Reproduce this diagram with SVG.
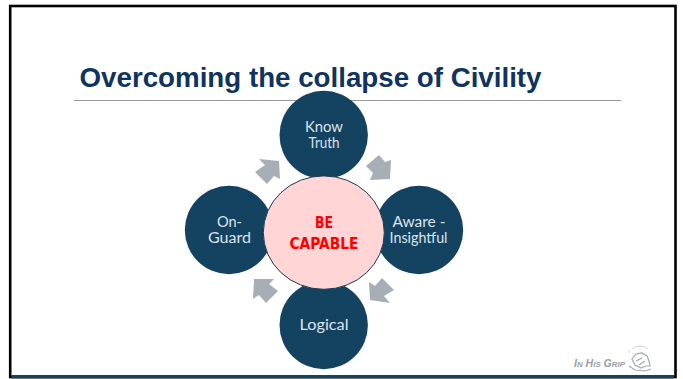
<svg xmlns="http://www.w3.org/2000/svg" width="683" height="379" viewBox="0 0 683 379">
<style>
.sat{fill:#144261}
.lbl{font-family:"Lato","Noto Sans",sans-serif;font-weight:400;font-size:14.5px;fill:#dde5ec;text-anchor:middle}
.arr{fill:#a8aeb6}
.cen{font-family:"DejaVu Sans",sans-serif;font-weight:700;font-size:15.5px;fill:#ff0000;text-anchor:middle}
</style>
<rect width="683" height="379" fill="#fff"/>
<rect x="10.2" y="6" width="665.3" height="371" fill="#fff" stroke="#000" stroke-width="2.6"/>
<rect x="11.5" y="375" width="662.5" height="3.5" fill="#144261"/>
<text x="79.5" y="87" font-family="'Liberation Sans',sans-serif" font-weight="700" font-size="27.5" fill="#0f3460" textLength="462" lengthAdjust="spacingAndGlyphs">Overcoming the collapse of Civility</text>
<line x1="74" y1="100.5" x2="621" y2="100.5" stroke="#999" stroke-width="1"/>
<g id="connectors">
<polygon class="arr" points="379,155 385,162 391,160 390,179 370,180 373,173 366,166"/>
<polygon class="arr" points="279,161 259,159 265,165 255,172 267,184 274,176 280,179"/>
<polygon class="arr" points="254,279 274,279 269,284 278,291 266,303 259,295 253,299"/>
<polygon class="arr" points="370,300 390,303 384,296 394,290 382,278 375,286 369,282"/>
</g>
<g id="node-know"><circle class="sat" cx="323.7" cy="135" r="44.2"/><text class="lbl" x="324" y="132" textLength="38" lengthAdjust="spacingAndGlyphs">Know</text><text class="lbl" x="324" y="148" textLength="31" lengthAdjust="spacingAndGlyphs">Truth</text></g>
<g id="node-aware"><circle class="sat" cx="419" cy="230" r="44.2"/><text class="lbl" x="419" y="227" textLength="53" lengthAdjust="spacingAndGlyphs">Aware -</text><text class="lbl" x="418.5" y="243" textLength="58" lengthAdjust="spacingAndGlyphs">Insightful</text></g>
<g id="node-logical"><circle class="sat" cx="323.7" cy="325" r="44.2"/><text class="lbl" x="324" y="330" textLength="49" lengthAdjust="spacingAndGlyphs">Logical</text></g>
<g id="node-guard"><circle class="sat" cx="229" cy="230" r="44.2"/><text class="lbl" x="229.5" y="227" textLength="25" lengthAdjust="spacingAndGlyphs">On-</text><text class="lbl" x="229.5" y="243" textLength="43" lengthAdjust="spacingAndGlyphs">Guard</text></g>
<g id="node-center"><ellipse cx="323.8" cy="232.6" rx="60.5" ry="56.7" fill="#ffd5d5" stroke="#1a3a55" stroke-width="1"/><text class="cen" x="324" y="228" textLength="18" lengthAdjust="spacingAndGlyphs">BE</text><text class="cen" x="324" y="249" textLength="69" lengthAdjust="spacingAndGlyphs">CAPABLE</text></g>
<g id="logo">
<text x="574" y="367" font-family="'Liberation Sans',sans-serif" font-style="italic" font-weight="700" font-size="10" fill="#9a9ea3" textLength="51" lengthAdjust="spacingAndGlyphs">I<tspan font-size="7.5">N</tspan> H<tspan font-size="7.5">IS</tspan> G<tspan font-size="7.5">RIP</tspan></text>
<path d="M632 349q8-6 16 0M629 353q-1-1 1-3" fill="none" stroke="#d4d6da" stroke-width="1"/>
<path d="M632 359l4-5 6-1 5 3 2 5 1 5-4 0-5 2-6-3-3-6zM636 361l6-3M639 365l6-4M629 366l6 4 10 1 6-2" fill="none" stroke="#a4a8ad" stroke-width="1.2"/>
</g>
</svg>
